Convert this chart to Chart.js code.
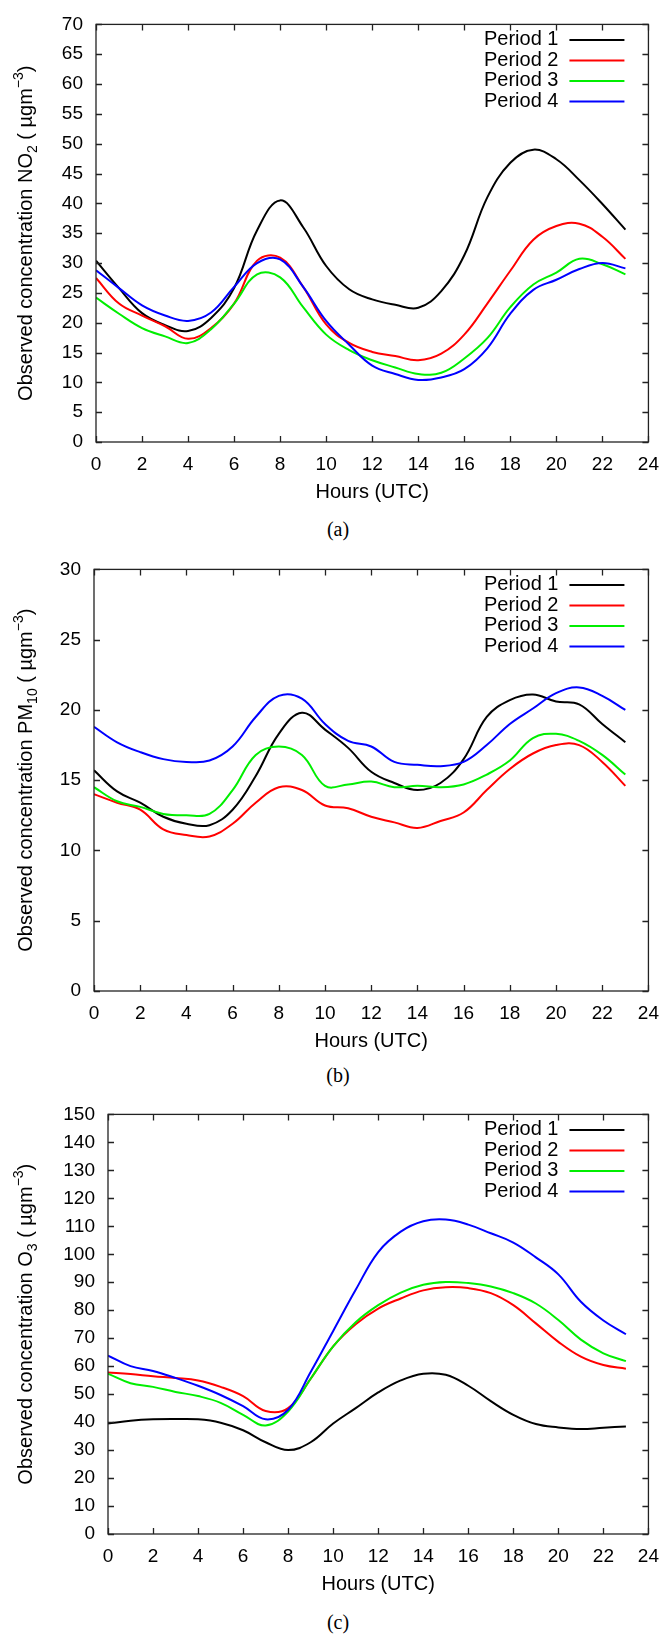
<!DOCTYPE html>
<html>
<head>
<meta charset="utf-8">
<script src="https://cdn.jsdelivr.net/npm/chart.js@4"></script>
<style>
  body { margin: 0; background: #fff; width: 670px; height: 1634px; position: relative; overflow: hidden; }
  canvas { position: absolute; left: 0; }
  .cap { position: absolute; left: 0; width: 676px; text-align: center; line-height: 22px;
         font: 20px "Liberation Serif", "Times New Roman", serif; color: #000; }
</style>
</head>
<body>
<canvas id="no2" width="670" height="510" style="top:0"></canvas>
<canvas id="pm10" width="670" height="514" style="top:545px"></canvas>
<canvas id="o3" width="670" height="512" style="top:1090px"></canvas>
<div class="cap" style="top:518px">(a)</div>
<div class="cap" style="top:1064px">(b)</div>
<div class="cap" style="top:1611px">(c)</div>
<script>
// hours of the day
var hours = [0, 1, 2, 3, 4, 5, 6, 7, 8, 9, 10, 11, 12, 13, 14, 15, 16, 17, 18, 19, 20, 21, 22, 23];
var periodNames = ['Period 1', 'Period 2', 'Period 3', 'Period 4'];
var periodColors = ['#000000', '#ff0000', '#00ee00', '#0000ff'];

// (a) NO2
var no2Period1 = [30.4, 25.8, 21.6, 19.6, 18.6, 20.8, 25.8, 35.5, 40.5, 36.0, 29.5, 25.6, 23.9, 23.0, 22.5, 25.3, 31.3, 41.0, 46.8, 49.0, 47.4, 43.9, 39.9, 35.6];
var no2Period2 = [27.5, 23.2, 21.2, 19.4, 17.3, 19.1, 23.2, 30.4, 30.9, 26.0, 19.7, 16.6, 15.1, 14.4, 13.7, 14.8, 18.0, 23.2, 28.7, 33.9, 36.2, 36.6, 34.4, 30.7];
var no2Period3 = [24.2, 21.5, 19.1, 17.7, 16.6, 18.9, 23.2, 28.1, 27.6, 22.6, 18.0, 15.4, 13.7, 12.5, 11.4, 11.6, 14.0, 17.4, 22.6, 26.4, 28.4, 30.7, 29.8, 28.1];
var no2Period4 = [28.8, 25.8, 22.9, 21.2, 20.3, 21.7, 26.0, 30.0, 30.6, 26.0, 20.3, 16.3, 12.8, 11.4, 10.4, 10.8, 12.2, 15.7, 21.5, 25.5, 27.2, 29.0, 30.0, 29.1];

// (b) PM10
var pm10Period1 = [15.7, 14.2, 13.4, 12.4, 11.9, 11.8, 12.9, 15.3, 18.3, 19.8, 18.6, 17.3, 15.6, 14.8, 14.3, 14.8, 16.5, 19.5, 20.7, 21.1, 20.6, 20.4, 19.0, 17.7];
var pm10Period2 = [14.0, 13.4, 12.9, 11.5, 11.1, 11.0, 11.9, 13.4, 14.5, 14.3, 13.2, 13.0, 12.4, 12.0, 11.6, 12.1, 12.7, 14.3, 15.8, 16.9, 17.5, 17.5, 16.3, 14.6];
var pm10Period3 = [14.5, 13.5, 13.1, 12.6, 12.5, 12.6, 14.3, 16.8, 17.4, 16.8, 14.6, 14.7, 14.9, 14.5, 14.6, 14.5, 14.7, 15.4, 16.4, 18.0, 18.3, 17.8, 16.8, 15.4];
var pm10Period4 = [18.8, 17.7, 17.0, 16.5, 16.3, 16.4, 17.4, 19.5, 21.0, 20.8, 19.0, 17.8, 17.4, 16.3, 16.1, 16.0, 16.3, 17.5, 19.0, 20.1, 21.2, 21.6, 21.0, 20.0];

// (c) O3
var o3Period1 = [39.5, 40.5, 41.0, 41.1, 41.0, 39.8, 37.1, 32.8, 30.0, 32.8, 39.5, 45.0, 50.6, 54.9, 57.3, 56.9, 53.0, 47.5, 42.6, 39.3, 38.1, 37.5, 38.0, 38.4];
var o3Period2 = [57.7, 57.2, 56.4, 55.8, 54.9, 52.6, 49.3, 44.0, 45.0, 55.5, 67.1, 75.0, 80.6, 84.2, 87.1, 88.2, 87.9, 86.1, 81.8, 75.3, 68.7, 63.4, 60.4, 59.1];
var o3Period3 = [57.3, 53.9, 52.6, 50.8, 49.3, 46.9, 42.6, 38.8, 43.8, 55.5, 67.1, 75.7, 81.8, 86.3, 89.1, 90.1, 89.7, 88.5, 86.1, 82.4, 76.5, 69.5, 64.6, 61.8];
var o3Period4 = [63.8, 60.0, 58.3, 55.8, 53.0, 49.7, 45.7, 41.0, 44.4, 57.9, 72.6, 87.3, 100.8, 108.1, 111.8, 112.4, 110.6, 107.5, 104.2, 98.9, 92.8, 83.0, 76.3, 71.4];

// y axis titles, split so the sub/superscripts can be drawn smaller
var yTitles = {
  no2: [['Observed concentration NO', 0], ['2', 5], [' ( \u00b5gm', 0], ['\u22123', -9], [')', 0]],
  pm10: [['Observed concentration PM', 0], ['10', 5], [' ( \u00b5gm', 0], ['\u22123', -9], [')', 0]],
  o3: [['Observed concentration O', 0], ['3', 5], [' ( \u00b5gm', 0], ['\u22123', -9], [')', 0]]
};

var tickFont = { family: '"Liberation Sans", Arial, sans-serif', size: 19 };
var titleFamily = '"Liberation Sans", Arial, sans-serif';

// box with inward ticks on all four sides, like gnuplot
var framePlugin = {
  id: 'frame',
  afterDraw: function (chart) {
    var ctx = chart.ctx, a = chart.chartArea, x = chart.scales.x, y = chart.scales.y;
    ctx.save();
    ctx.strokeStyle = '#222';
    ctx.lineWidth = 1.3;
    ctx.strokeRect(a.left, a.top, a.right - a.left, a.bottom - a.top);
    ctx.beginPath();
    x.ticks.forEach(function (t) {
      var px = Math.round(x.getPixelForValue(t.value)) + 0.5;
      ctx.moveTo(px, a.bottom); ctx.lineTo(px, a.bottom - 6);
      ctx.moveTo(px, a.top); ctx.lineTo(px, a.top + 6);
    });
    y.ticks.forEach(function (t) {
      var py = Math.round(y.getPixelForValue(t.value)) + 0.5;
      ctx.moveTo(a.left, py); ctx.lineTo(a.left + 6, py);
      ctx.moveTo(a.right, py); ctx.lineTo(a.right - 6, py);
    });
    ctx.stroke();
    ctx.restore();
  }
};

// legend inside the plot, text first then the line sample
var keyPlugin = {
  id: 'key',
  afterDraw: function (chart) {
    var ctx = chart.ctx, a = chart.chartArea;
    ctx.save();
    ctx.font = '20px ' + titleFamily;
    ctx.textAlign = 'right';
    ctx.textBaseline = 'middle';
    chart.data.datasets.forEach(function (ds, i) {
      var yy = a.top + 15.5 + i * 20.5;
      ctx.fillStyle = '#000';
      ctx.fillText(ds.label, a.right - 90, yy);
      ctx.strokeStyle = ds.borderColor;
      ctx.lineWidth = 2;
      ctx.beginPath();
      ctx.moveTo(a.right - 79, yy); ctx.lineTo(a.right - 24, yy);
      ctx.stroke();
    });
    ctx.restore();
  }
};

// rotated y title with sub/superscripts
var yTitlePlugin = {
  id: 'yTitle',
  afterDraw: function (chart) {
    var ctx = chart.ctx, a = chart.chartArea;
    var parts = yTitles[chart.canvas.id];
    var big = 20, small = 14;
    ctx.save();
    ctx.fillStyle = '#000';
    ctx.textBaseline = 'alphabetic';
    ctx.textAlign = 'left';
    var widths = [], total = 0;
    parts.forEach(function (p) {
      ctx.font = (p[1] ? small : big) + 'px ' + titleFamily;
      var w = ctx.measureText(p[0]).width;
      widths.push(w);
      total += w;
    });
    ctx.translate(25, (a.top + a.bottom) / 2);
    ctx.rotate(-Math.PI / 2);
    var cx = -total / 2;
    parts.forEach(function (p, i) {
      ctx.font = (p[1] ? small : big) + 'px ' + titleFamily;
      ctx.fillText(p[0], cx, 7 + p[1]);
      cx += widths[i];
    });
    ctx.restore();
  }
};

function makeChart(id, series, yMax, yStep, yWidth, padTop, padRight) {
  var datasets = series.map(function (vals, i) {
    return {
      label: periodNames[i],
      data: hours.map(function (h, k) { return { x: h, y: vals[k] }; }),
      borderColor: periodColors[i],
      borderWidth: 2,
      pointRadius: 0,
      tension: 0.4,
      fill: false,
      order: 4 - i
    };
  });
  return new Chart(document.getElementById(id), {
    type: 'line',
    data: { datasets: datasets },
    plugins: [framePlugin, keyPlugin, yTitlePlugin],
    options: {
      responsive: false,
      animation: false,
      devicePixelRatio: 1,
      layout: { padding: { left: 0, top: padTop, right: padRight, bottom: 0 } },
      plugins: {
        legend: { display: false },
        tooltip: { enabled: false }
      },
      scales: {
        x: {
          type: 'linear',
          min: 0, max: 24,
          grid: { display: false, drawTicks: false },
          border: { display: false },
          ticks: { stepSize: 2, font: tickFont, color: '#000', padding: 11, maxRotation: 0 },
          title: { display: true, text: 'Hours (UTC)', color: '#000',
                   font: { family: titleFamily, size: 20 }, padding: { top: 4, bottom: 6 } },
          afterFit: function (s) { s.height = 68; }
        },
        y: {
          min: 0, max: yMax,
          grid: { display: false, drawTicks: false },
          border: { display: false },
          ticks: { stepSize: yStep, font: tickFont, color: '#000', padding: 13 },
          afterFit: function (s) { s.width = yWidth; }
        }
      }
    }
  });
}

makeChart('no2', [no2Period1, no2Period2, no2Period3, no2Period4], 70, 5, 96, 20, 17);
makeChart('pm10', [pm10Period1, pm10Period2, pm10Period3, pm10Period4], 30, 5, 94, 21, 14);
makeChart('o3', [o3Period1, o3Period2, o3Period3, o3Period4], 150, 10, 108, 20, 14);
</script>
</body>
</html>
